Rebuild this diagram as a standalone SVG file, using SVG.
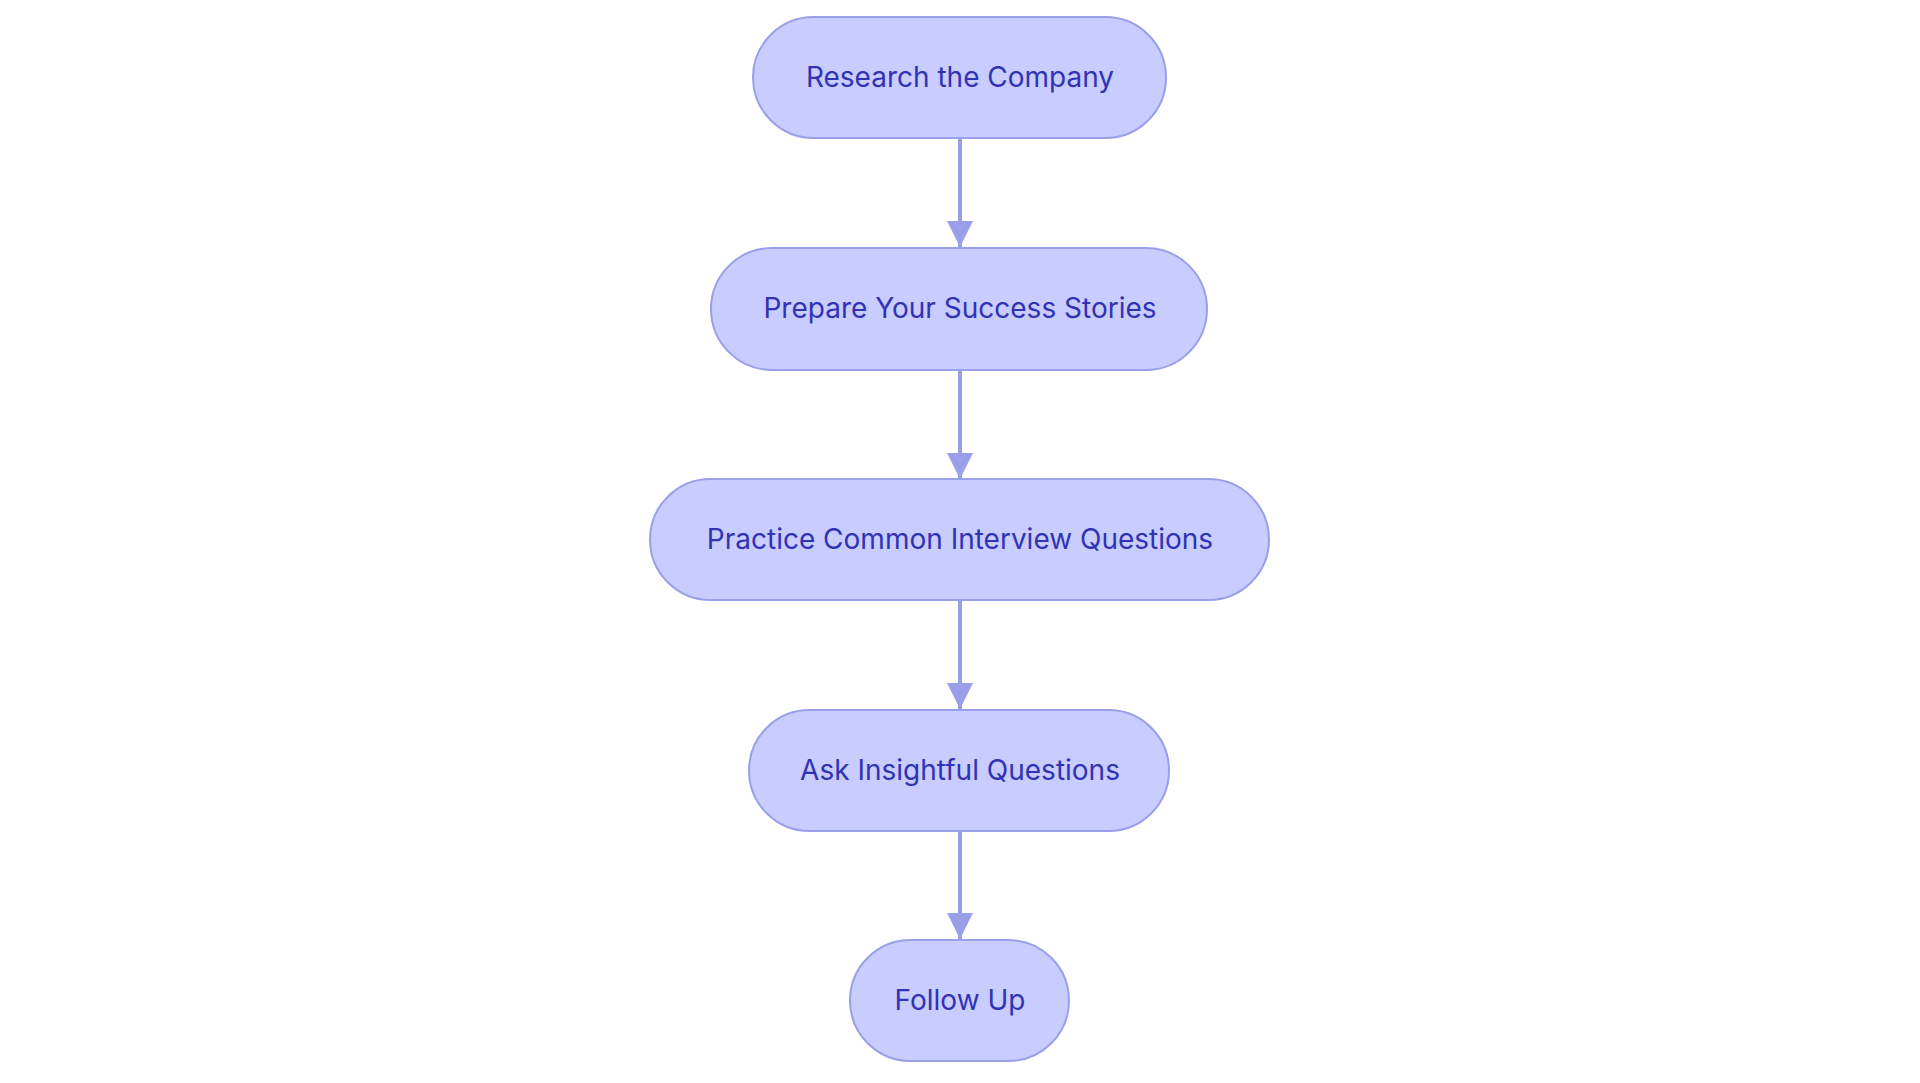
<svg xmlns="http://www.w3.org/2000/svg" width="1920" height="1083" viewBox="0 0 1920 1083">
<style>
.n rect{fill:#c8ccff;stroke:#9a9fea;stroke-width:2}
.n text{font-family:Inter,"Noto Sans",sans-serif;font-size:28px;fill:#3232b4;text-anchor:middle;dominant-baseline:central}
.c line{stroke:#9a9fea;stroke-width:4}
</style>
<defs><marker id="a" markerWidth="8" markerHeight="8" refX="4" refY="7" orient="auto" markerUnits="userSpaceOnUse" viewBox="0 0 8 8"><path d="M0,0 L8,0 L4,8 Z" fill="#9a9fea" transform="scale(1)"/></marker>
<marker id="b" viewBox="0 0 26 26" refX="13" refY="26" markerWidth="26" markerHeight="26" markerUnits="userSpaceOnUse" orient="auto-start-reverse"><path d="M0,0 L26,0 L13,26 Z" fill="#9a9fea"/></marker></defs>
<rect width="1920" height="1083" fill="#fff"/>
<g class="c">
<line x1="960" y1="139" x2="960" y2="247" marker-end="url(#b)" style="marker-end:none"/>
<path d="M947,221 L973,221 L960,247 Z" fill="#9a9fea"/>
<line x1="960" y1="371" x2="960" y2="479"/>
<path d="M947,453 L973,453 L960,479 Z" fill="#9a9fea"/>
<line x1="960" y1="601" x2="960" y2="709"/>
<path d="M947,683 L973,683 L960,709 Z" fill="#9a9fea"/>
<line x1="960" y1="832" x2="960" y2="939"/>
<path d="M947,913 L973,913 L960,939 Z" fill="#9a9fea"/>
</g>
<g id="n1" class="n"><rect x="753" y="17" width="413" height="121" rx="60.5"/><text x="960" y="77">Research the Company</text></g>
<g id="n2" class="n"><rect x="711" y="248" width="496" height="122" rx="61"/><text x="960" y="308">Prepare Your Success Stories</text></g>
<g id="n3" class="n"><rect x="650" y="479" width="619" height="121" rx="60.5"/><text x="960" y="539">Practice Common Interview Questions</text></g>
<g id="n4" class="n"><rect x="749" y="710" width="420" height="121" rx="60.5"/><text x="960" y="770">Ask Insightful Questions</text></g>
<g id="n5" class="n"><rect x="850" y="940" width="219" height="121" rx="60.5"/><text x="960" y="1000">Follow Up</text></g>
</svg>
